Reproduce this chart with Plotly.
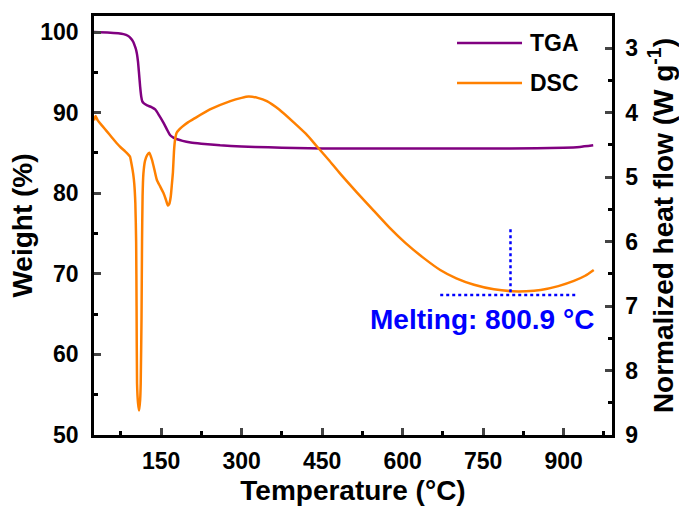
import plotly.graph_objects as go

# ---- data ----
tga_T = [25, 50, 70, 80, 88, 94, 98, 101, 103, 105, 107, 109, 111, 113, 115, 118, 124, 132, 139, 146,
         154, 161, 167, 173, 180, 190, 205, 225, 260, 300, 350, 400, 450, 550, 650, 750, 850, 900, 930, 955]
tga_W = [100.0, 99.95, 99.85, 99.75, 99.55, 99.2, 98.8, 98.3, 97.9, 97.3, 96.3, 94.8, 93.2, 92.0, 91.4,
         91.15, 90.9, 90.7, 90.4, 89.7, 88.8, 87.9, 87.2, 86.9, 86.7, 86.5, 86.3, 86.15, 85.95, 85.8,
         85.7, 85.62, 85.57, 85.55, 85.55, 85.55, 85.6, 85.65, 85.75, 85.95]

dsc_T = [25, 28, 32, 40, 49, 58, 67, 75, 83, 89, 92, 95, 98, 100, 102, 103.5, 104.3, 105.2, 107, 109,
         111, 112, 113.5, 114.5, 115.5, 117, 120, 124, 128, 133, 138, 142, 148, 154, 159, 162.5, 165,
         168, 170, 172, 174, 176, 179, 184, 189, 200, 210, 241, 279, 300, 313, 330, 347, 370, 397, 420,
         440, 462, 484, 515, 546, 575, 605, 640, 670, 700, 733, 770, 804, 830, 857, 890, 919, 940, 956]
dsc_H = [4.12, 4.05, 4.12, 4.2, 4.29, 4.38, 4.47, 4.54, 4.6, 4.65, 4.68, 4.8, 4.95, 5.1, 5.4, 6.0, 7.0,
         8.2, 8.5, 8.62, 8.45, 8.2, 7.2, 6.0, 5.3, 4.95, 4.75, 4.66, 4.62, 4.73, 4.9, 5.04, 5.14, 5.24,
         5.35, 5.44, 5.42, 5.3, 5.12, 4.93, 4.6, 4.42, 4.31, 4.26, 4.22, 4.15, 4.1, 3.95, 3.82, 3.77,
         3.75, 3.77, 3.82, 3.95, 4.15, 4.33, 4.52, 4.73, 4.95, 5.24, 5.52, 5.78, 6.02, 6.26, 6.44, 6.57,
         6.67, 6.74, 6.77, 6.77, 6.75, 6.69, 6.61, 6.53, 6.44]

x_ticks = [150, 300, 450, 600, 750, 900]
y_ticks = [50, 60, 70, 80, 90, 100]
y2_ticks = [3, 4, 5, 6, 7, 8, 9]

melt_T = 800.9
melt_H = 6.83
melt_top = 5.81
melt_left = 670
melt_right = 924
melt_label = "Melting: 800.9 °C"

FONT = "Liberation Sans, Arial, sans-serif"
PURPLE = "#800080"
ORANGE = "#FF8000"
BLUE = "#0000FF"

fig = go.Figure()
fig.add_trace(go.Scatter(x=tga_T, y=tga_W, mode="lines", name="TGA",
                         line=dict(color=PURPLE, width=2.5, shape="spline", smoothing=0.5),
                         yaxis="y", showlegend=False))
fig.add_trace(go.Scatter(x=dsc_T, y=dsc_H, mode="lines", name="DSC",
                         line=dict(color=ORANGE, width=2.5, shape="spline", smoothing=0.5),
                         yaxis="y2", showlegend=False))

# melting markers (dotted)
fig.add_shape(type="line", xref="x", yref="y2", x0=melt_T, x1=melt_T, y0=melt_top, y1=melt_H,
              line=dict(color=BLUE, width=2.5, dash="dot"))
fig.add_shape(type="line", xref="x", yref="y2", x0=melt_left, x1=melt_right, y0=melt_H, y1=melt_H,
              line=dict(color=BLUE, width=2.5, dash="dot"))
fig.add_annotation(x=747, y=7.21, xref="x", yref="y2", text=melt_label, showarrow=False,
                   font=dict(family=FONT, size=28, color=BLUE, weight="bold"),
                   xanchor="center", yanchor="middle")

# legend (drawn to match the long line samples)
leg_names = ["TGA", "DSC"]
leg_colors = [PURPLE, ORANGE]
leg_y = [0.9356, 0.8401]
for nm, col, yy in zip(leg_names, leg_colors, leg_y):
    fig.add_shape(type="line", xref="paper", yref="paper", x0=0.7008, x1=0.8263, y0=yy, y1=yy,
                  line=dict(color=col, width=2.5))
    fig.add_annotation(x=0.8378, y=yy, xref="paper", yref="paper", text=nm, showarrow=False,
                       xanchor="left", yanchor="middle",
                       font=dict(family=FONT, size=23, color="black", weight="bold"))

tickfont = dict(family=FONT, size=23, color="black", weight="bold")
titlefont = dict(family=FONT, size=28, color="black", weight="bold")

fig.update_layout(
    width=679, height=506,
    margin=dict(l=94, r=67, t=16, b=71, autoexpand=False),
    plot_bgcolor="white", paper_bgcolor="white",
    font=dict(family=FONT, color="black"),
    xaxis=dict(range=[25, 990], tickvals=x_ticks, ticks="inside", ticklen=7, tickwidth=2.5,
               showline=True, linewidth=2.5, linecolor="black", mirror=True, showgrid=False,
               zeroline=False, tickfont=tickfont, ticklabelstandoff=4,
               minor=dict(tickvals=[75, 225, 375, 525, 675, 825, 975], ticks="inside", ticklen=4,
                          tickwidth=2.5, tickcolor="black", showgrid=False),
               title=dict(text="Temperature (°C)", font=titlefont, standoff=14)),
    yaxis=dict(range=[50, 102], tickvals=y_ticks, ticks="inside", ticklen=7, tickwidth=2.5,
               showline=True, linewidth=2.5, linecolor="black", showgrid=False, zeroline=False,
               tickfont=tickfont, ticklabelstandoff=8,
               minor=dict(tickvals=[55, 65, 75, 85, 95], ticks="inside", ticklen=4, tickwidth=2.5,
                          tickcolor="black", showgrid=False),
               title=dict(text="Weight (%)", font=titlefont, standoff=0)),
    yaxis2=dict(range=[9, 2.5], tickvals=y2_ticks, overlaying="y", side="right", ticks="inside",
                ticklen=7, tickwidth=2.5, showline=True, linewidth=2.5, linecolor="black",
                showgrid=False, zeroline=False, tickfont=tickfont, ticklabelstandoff=6,
                minor=dict(tickvals=[3.5, 4.5, 5.5, 6.5, 7.5, 8.5], ticks="inside", ticklen=4,
                           tickwidth=2.5, tickcolor="black", showgrid=False),
                title=dict(text="Normalized heat flow (W g<sup>-1</sup>)", font=titlefont, standoff=22)),
)

fig.write_html("out.html")
